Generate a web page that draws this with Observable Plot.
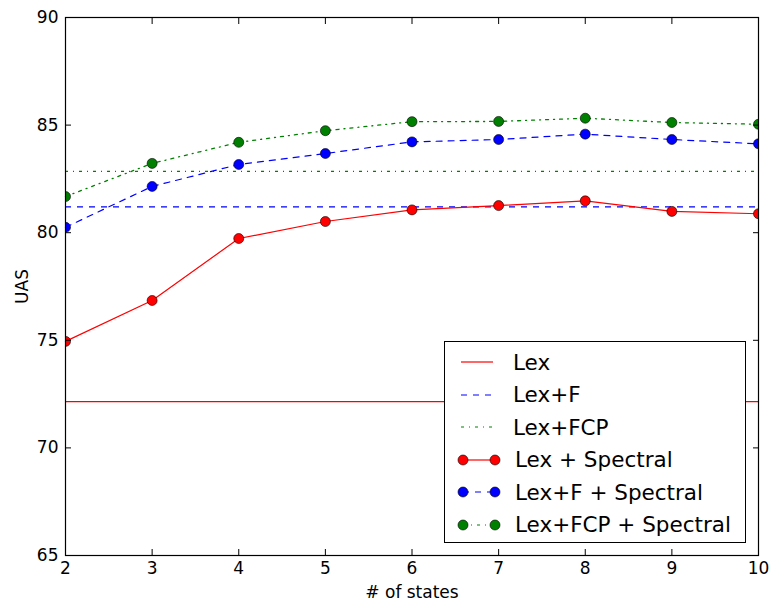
<!DOCTYPE html>
<html>
<head>
<meta charset="utf-8">
<script src="https://cdn.jsdelivr.net/npm/d3@7"></script>
<script src="https://cdn.jsdelivr.net/npm/@observablehq/plot@0.6"></script>
<style>
  html, body { margin: 0; padding: 0; background: #fff; }
  #wrap { position: relative; width: 769px; height: 601px; font-family: "DejaVu Sans", sans-serif; }
  #legend { position: absolute; left: 444px; top: 341px; width: 302px; height: 202px; box-sizing: border-box;
            border: 1.2px solid #000; background: #fff; padding-top: 4px; }
  .row { display: flex; align-items: center; height: 32.5px; font-size: 21.5px; color: #000; }
  .row svg { margin-left: 12px; margin-right: 14px; }
</style>
</head>
<body>
<div id="wrap"><div id="chart"></div><div id="legend"></div></div>
<script>
const states = [2, 3, 4, 5, 6, 7, 8, 9, 10];
const lexSpectral    = [74.95, 76.85, 79.73, 80.52, 81.06, 81.26, 81.48, 80.99, 80.88];
const lexFSpectral   = [80.25, 82.15, 83.17, 83.68, 84.22, 84.33, 84.58, 84.33, 84.13];
const lexFCPSpectral = [81.68, 83.22, 84.20, 84.74, 85.16, 85.17, 85.32, 85.12, 85.04];
const baselineLex    = 72.15;
const baselineLexF   = 81.2;
const baselineLexFCP = 82.85;
const yTicks = [65, 70, 75, 80, 85, 90];
const seriesNames = ["Lex", "Lex+F", "Lex+FCP", "Lex + Spectral", "Lex+F + Spectral", "Lex+FCP + Spectral"];

const RED = "#ff0000", BLUE = "#0000ff", GREEN = "#008000";
const DASH = "6,6", DASHDOT = "3,5,1,5";

const rows = (vals) => states.map((s, i) => ({x: s, y: vals[i]}));
const spectral = [
  {data: rows(lexSpectral), color: RED, dash: null},
  {data: rows(lexFSpectral), color: BLUE, dash: DASH},
  {data: rows(lexFCPSpectral), color: GREEN, dash: DASHDOT}
];

const marks = [
  Plot.ruleY([baselineLex], {stroke: RED, strokeWidth: 1.2}),
  Plot.ruleY([baselineLexF], {stroke: BLUE, strokeWidth: 1.2, strokeDasharray: DASH}),
  Plot.ruleY([baselineLexFCP], {stroke: GREEN, strokeWidth: 1.3, strokeDasharray: DASHDOT})
];
for (const s of spectral) {
  marks.push(Plot.line(s.data, {x: "x", y: "y", stroke: s.color, strokeWidth: s.color === GREEN ? 1.3 : 1.2,
    strokeDasharray: s.dash}));
}
for (const s of spectral) {
  marks.push(Plot.dot(s.data, {x: "x", y: "y", r: 5, fill: s.color, stroke: "#000", strokeWidth: 0.6, clip: "frame"}));
}
marks.push(
  Plot.axisX({anchor: "bottom", ticks: states, tickSize: -6, tickPadding: 12, label: "# of states", labelAnchor: "center", labelArrow: "none", labelOffset: 42}),
  Plot.axisX({anchor: "top", ticks: states, tickSize: -6, tickFormat: () => "", label: null}),
  Plot.axisY({anchor: "left", ticks: yTicks, tickSize: -6, tickPadding: 13, label: "UAS", labelAnchor: "center", labelArrow: "none", labelOffset: 50}),
  Plot.axisY({anchor: "right", ticks: yTicks, tickSize: -6, tickFormat: () => "", label: null}),
  Plot.frame({stroke: "#000", strokeWidth: 1.2})
);

const chart = Plot.plot({
  width: 769,
  height: 601,
  marginLeft: 65,
  marginRight: 11,
  marginTop: 17,
  marginBottom: 46,
  style: {fontFamily: "DejaVu Sans, sans-serif", fontSize: "17px", color: "#000", background: "#fff"},
  x: {domain: [2, 10]},
  y: {domain: [65, 90]},
  marks
});
document.getElementById("chart").appendChild(chart);

// legend
const legendStyles = [
  {color: RED, dash: null, marker: false},
  {color: BLUE, dash: DASH, marker: false},
  {color: GREEN, dash: DASHDOT, marker: false},
  {color: RED, dash: null, marker: true},
  {color: BLUE, dash: DASH, marker: true},
  {color: GREEN, dash: DASHDOT, marker: true}
];
const legend = document.getElementById("legend");
seriesNames.forEach((name, i) => {
  const st = legendStyles[i];
  const row = document.createElement("div");
  row.className = "row";
  const ns = "http://www.w3.org/2000/svg";
  const svg = document.createElementNS(ns, "svg");
  svg.setAttribute("width", st.marker ? 44 : 40);
  svg.setAttribute("height", 16);
  const line = document.createElementNS(ns, "line");
  const x1 = st.marker ? 6 : 4, x2 = st.marker ? 38 : 36;
  line.setAttribute("x1", x1); line.setAttribute("x2", x2);
  line.setAttribute("y1", 8); line.setAttribute("y2", 8);
  line.setAttribute("stroke", st.color); line.setAttribute("stroke-width", 1.2);
  if (st.dash) line.setAttribute("stroke-dasharray", st.dash);
  svg.appendChild(line);
  if (st.marker) {
    for (const cx of [x1, x2]) {
      const c = document.createElementNS(ns, "circle");
      c.setAttribute("cx", cx); c.setAttribute("cy", 8); c.setAttribute("r", 5);
      c.setAttribute("fill", st.color); c.setAttribute("stroke", "#000"); c.setAttribute("stroke-width", 0.6);
      svg.appendChild(c);
    }
  }
  row.appendChild(svg);
  const span = document.createElement("span");
  span.textContent = name;
  if (!st.marker) span.style.marginLeft = "2px";
  row.appendChild(span);
  legend.appendChild(row);
});
</script>
</body>
</html>
